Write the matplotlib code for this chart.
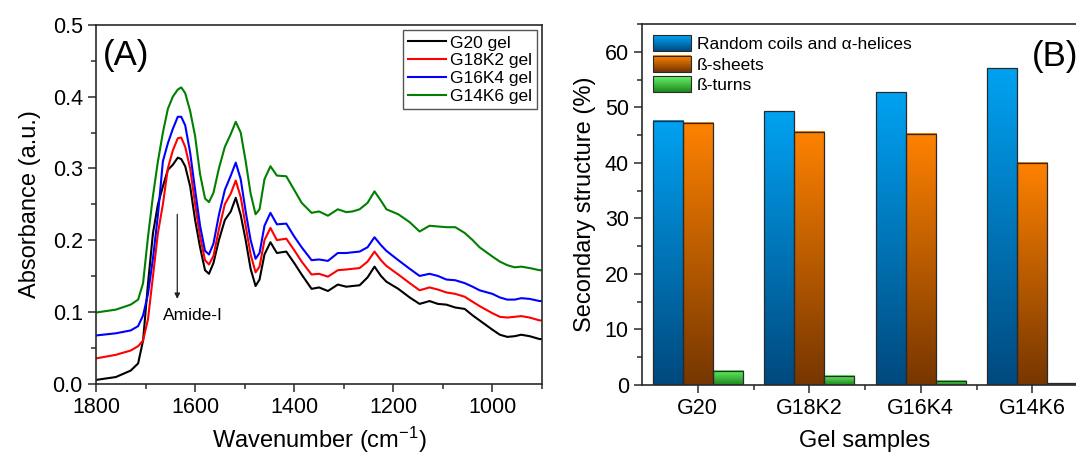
import numpy as np
import matplotlib
matplotlib.use("Agg")
import matplotlib.pyplot as plt
from matplotlib.colors import LinearSegmentedColormap, to_rgb
from matplotlib.legend_handler import HandlerBase
from matplotlib.patches import Rectangle, Patch
from matplotlib.ticker import MultipleLocator

plt.rcParams['font.family'] = ['Liberation Sans', 'DejaVu Sans']
plt.rcParams['mathtext.fontset'] = 'custom'
plt.rcParams['mathtext.rm'] = 'Liberation Sans'
plt.rcParams['mathtext.it'] = 'Liberation Sans:italic'
plt.rcParams['mathtext.bf'] = 'Liberation Sans:bold'

# ---------------- Panel A data (FTIR spectra) ----------------
wavenumber = [1800, 1760, 1730, 1715, 1705, 1695, 1685, 1675, 1665, 1655, 1645, 1635, 1628,
              1620, 1610, 1600, 1590, 1580, 1572, 1563, 1552, 1540, 1528, 1518, 1508, 1498,
              1488, 1478, 1470, 1460, 1448, 1435, 1416, 1400, 1385, 1365, 1350, 1332, 1312,
              1295, 1282, 1268, 1252, 1238, 1225, 1214, 1190, 1167, 1147, 1127, 1110, 1093,
              1075, 1056, 1040, 1026, 1000, 985, 970, 955, 942, 925, 905, 900]

g20 = [0.005, 0.009, 0.018, 0.028, 0.060, 0.140, 0.210, 0.250, 0.275, 0.298, 0.305, 0.315, 0.313,
       0.303, 0.275, 0.228, 0.190, 0.158, 0.153, 0.168, 0.200, 0.228, 0.240, 0.259, 0.235, 0.200,
       0.160, 0.136, 0.145, 0.180, 0.197, 0.182, 0.184, 0.168, 0.152, 0.132, 0.134, 0.129, 0.138,
       0.135, 0.136, 0.137, 0.148, 0.163, 0.150, 0.142, 0.132, 0.120, 0.111, 0.115, 0.111, 0.110,
       0.106, 0.104, 0.095, 0.088, 0.075, 0.068, 0.065, 0.066, 0.068, 0.066, 0.062, 0.062]

g18k2 = [0.035, 0.040, 0.046, 0.052, 0.060, 0.090, 0.150, 0.210, 0.250, 0.300, 0.325, 0.342, 0.343,
         0.330, 0.300, 0.250, 0.205, 0.172, 0.166, 0.178, 0.215, 0.250, 0.265, 0.283, 0.260, 0.220,
         0.180, 0.155, 0.163, 0.200, 0.217, 0.200, 0.202, 0.186, 0.170, 0.152, 0.153, 0.149, 0.158,
         0.159, 0.160, 0.161, 0.170, 0.184, 0.172, 0.164, 0.152, 0.140, 0.130, 0.134, 0.131, 0.127,
         0.125, 0.121, 0.114, 0.108, 0.098, 0.093, 0.092, 0.093, 0.094, 0.092, 0.088, 0.088]

g16k4 = [0.067, 0.070, 0.074, 0.080, 0.095, 0.125, 0.175, 0.235, 0.310, 0.335, 0.355, 0.372, 0.372,
         0.360, 0.322, 0.270, 0.220, 0.185, 0.180, 0.195, 0.235, 0.270, 0.290, 0.308, 0.285, 0.240,
         0.200, 0.174, 0.182, 0.220, 0.238, 0.222, 0.223, 0.205, 0.190, 0.172, 0.173, 0.171, 0.182,
         0.182, 0.183, 0.184, 0.190, 0.204, 0.193, 0.185, 0.172, 0.160, 0.150, 0.153, 0.150, 0.145,
         0.144, 0.140, 0.135, 0.130, 0.125, 0.120, 0.117, 0.117, 0.119, 0.118, 0.115, 0.115]

g14k6 = [0.099, 0.103, 0.110, 0.117, 0.140, 0.205, 0.262, 0.310, 0.350, 0.383, 0.400, 0.410, 0.413,
         0.405, 0.380, 0.345, 0.292, 0.258, 0.253, 0.266, 0.300, 0.330, 0.348, 0.365, 0.350, 0.310,
         0.265, 0.236, 0.243, 0.285, 0.303, 0.290, 0.289, 0.270, 0.252, 0.238, 0.240, 0.234, 0.243,
         0.239, 0.240, 0.243, 0.252, 0.268, 0.255, 0.243, 0.236, 0.225, 0.212, 0.220, 0.219, 0.218,
         0.218, 0.210, 0.200, 0.190, 0.177, 0.170, 0.165, 0.162, 0.163, 0.161, 0.158, 0.158]

spectra_labels = ['G20 gel', 'G18K2 gel', 'G16K4 gel', 'G14K6 gel']
spectra_colors = ['#000000', '#ff0000', '#0000ff', '#008000']

# ---------------- Panel B data (secondary structure) ----------------
samples = ['G20', 'G18K2', 'G16K4', 'G14K6']
random_coils_helices = [47.6, 49.3, 52.7, 57.0]
beta_sheets = [47.2, 45.6, 45.2, 40.0]
beta_turns = [2.6, 1.7, 0.8, 0.3]
struct_labels = ['Random coils and \u03b1-helices', '\u00df-sheets', '\u00df-turns']
grad_top = ['#00a2f2', '#ff8200', '#66f066']
grad_bottom = ['#00497e', '#763600', '#1c861c']

fig = plt.figure(figsize=(10.76, 4.57), dpi=100)

spine_color = '#2a2a2a'
tick_fs = 15.5
label_fs = 17

# ======== Panel A ========
axA = fig.add_axes([96/1076, (457-383.5)/457, 446/1076, 358.5/457])
for y, lab, col in zip([g20, g18k2, g16k4, g14k6], spectra_labels, spectra_colors):
    axA.plot(wavenumber, y, color=col, lw=1.5, label=lab)
axA.set_xlim(1800, 900)
axA.set_ylim(0, 0.5)
axA.xaxis.set_major_locator(MultipleLocator(200))
axA.xaxis.set_minor_locator(MultipleLocator(100))
axA.yaxis.set_major_locator(MultipleLocator(0.1))
axA.yaxis.set_minor_locator(MultipleLocator(0.05))
axA.tick_params(which='both', direction='out', top=False, right=False, colors=spine_color,
                labelcolor='black', labelsize=tick_fs, width=1.1)
axA.tick_params(which='major', length=6)
axA.tick_params(which='minor', length=3.5)
axA.yaxis.set_major_formatter(matplotlib.ticker.FormatStrFormatter('%.1f'))
for s in axA.spines.values():
    s.set_color(spine_color)
    s.set_linewidth(1.2)
axA.set_xlabel('Wavenumber (cm$^{\\mathregular{-1}}$)', fontsize=label_fs, labelpad=5)
axA.set_ylabel('Absorbance (a.u.)', fontsize=label_fs, labelpad=8)
leg = axA.legend(loc='upper right', fontsize=12.5, frameon=True, fancybox=False,
                 edgecolor='#555555', handlelength=2.2, handletextpad=0.2,
                 labelspacing=0.15, borderpad=0.3, borderaxespad=0.3, framealpha=1)
leg.get_frame().set_linewidth(1.0)
axA.text(0.015, 0.96, '(A)', transform=axA.transAxes, fontsize=25, va='top', ha='left')
axA.annotate('', xy=(1636, 0.118), xytext=(1636, 0.236),
             arrowprops=dict(arrowstyle='-|>', color='#222222', lw=0.9,
                             mutation_scale=8, shrinkA=0, shrinkB=0))
axA.text(1605, 0.095, 'Amide-I', fontsize=12.5, ha='center', va='center')

# ======== Panel B ========
axB = fig.add_axes([642/1076, (457-385)/457, 446/1076, 361/457])
x = np.arange(len(samples))
w = 0.27
series = [random_coils_helices, beta_sheets, beta_turns]
for i, vals in enumerate(series):
    bars = axB.bar(x + (i - 1) * w, vals, width=w, color='none', edgecolor='#2a2a2a',
                   linewidth=0.9, zorder=3)
    cmap = LinearSegmentedColormap.from_list('g%d' % i, [grad_bottom[i], grad_top[i]])
    grad = np.linspace(0, 1, 256).reshape(-1, 1)
    for b in bars:
        x0 = b.get_x()
        axB.imshow(grad, extent=[x0, x0 + b.get_width(), 0, b.get_height()],
                   origin='lower', aspect='auto', cmap=cmap, zorder=2, interpolation='bilinear')
axB.set_xlim(-0.5, 3.5)
axB.set_ylim(0, 65)
axB.set_aspect('auto')
axB.set_xticks(x)
axB.set_xticklabels(samples)
axB.set_xticks(x[:-1] + 0.5, minor=True)
axB.yaxis.set_major_locator(MultipleLocator(10))
axB.yaxis.set_minor_locator(MultipleLocator(5))
axB.tick_params(which='both', direction='out', top=False, right=False, colors=spine_color,
                labelcolor='black', labelsize=tick_fs, width=1.1)
axB.tick_params(which='major', length=6)
axB.tick_params(which='minor', length=3.5)
for s in axB.spines.values():
    s.set_color(spine_color)
    s.set_linewidth(1.2)
axB.set_xlabel('Gel samples', fontsize=label_fs, labelpad=8)
axB.set_ylabel('Secondary structure (%)', fontsize=label_fs, labelpad=6)
axB.text(0.875, 0.955, '(B)', transform=axB.transAxes, fontsize=25, va='top', ha='left')


class GradHandler(HandlerBase):
    def __init__(self, top, bottom, n=24):
        super().__init__()
        self.top = np.array(to_rgb(top))
        self.bottom = np.array(to_rgb(bottom))
        self.n = n

    def create_artists(self, legend, orig_handle, xdescent, ydescent, width, height,
                       fontsize, trans):
        arts = []
        for k in range(self.n):
            f = k / (self.n - 1)
            c = self.bottom * (1 - f) + self.top * f
            r = Rectangle((-xdescent, -ydescent + k * height / self.n), width,
                          height / self.n + 0.3, facecolor=c, edgecolor='none', transform=trans)
            arts.append(r)
        arts.append(Rectangle((-xdescent, -ydescent), width, height, fill=False,
                              edgecolor='#2a2a2a', lw=0.8, transform=trans))
        return arts


handles = [Patch(label=l) for l in struct_labels]
hmap = {h: GradHandler(t, b) for h, t, b in zip(handles, grad_top, grad_bottom)}
axB.legend(handles=handles, handler_map=hmap, loc='upper left', frameon=False, fontsize=12.5,
           handlelength=2.2, handleheight=1.05, handletextpad=0.3, labelspacing=0.2,
           borderaxespad=0.3, borderpad=0.35)

fig.savefig('out.png', dpi=100)
